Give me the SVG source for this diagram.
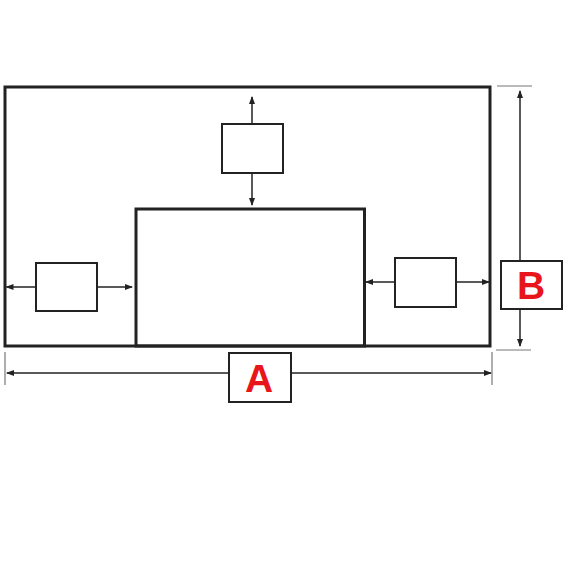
<svg xmlns="http://www.w3.org/2000/svg" width="570" height="570" viewBox="0 0 570 570">
<defs>
<marker id="ah" markerWidth="8" markerHeight="6" refX="7" refY="3" orient="auto" markerUnits="userSpaceOnUse">
<path d="M0,0 L8,3 L0,6 Z" fill="#222"/>
</marker>
</defs>
<style>
.frame{fill:none;stroke:#222;stroke-width:3}
.box{fill:#fff;stroke:#222;stroke-width:2}
.arr{stroke:#222;stroke-width:1.5;fill:none;marker-end:url(#ah)}
.ext{stroke:#777;stroke-width:1.2;fill:none}
.lbl{font-family:"Liberation Sans",Arial,sans-serif;font-weight:bold;font-size:39px;fill:#e8161b;text-anchor:middle}
</style>
<rect width="570" height="570" fill="#fff"/>
<g id="outer"><rect class="frame" x="5" y="87" width="485" height="259"/></g>
<g id="inner"><rect class="frame" x="136" y="209" width="228.5" height="137"/></g>
<g id="connectors">
<line class="arr" x1="252" y1="124" x2="252" y2="97"/>
<line class="arr" x1="252" y1="173" x2="252" y2="205"/>
<line class="arr" x1="36" y1="287" x2="6.5" y2="287"/>
<line class="arr" x1="97" y1="287" x2="132" y2="287"/>
<line class="arr" x1="395" y1="282" x2="366" y2="282"/>
<line class="arr" x1="456" y1="282" x2="489" y2="282"/>
<line class="arr" x1="520" y1="261" x2="520" y2="91"/>
<line class="arr" x1="520" y1="309" x2="520" y2="346"/>
<line class="arr" x1="229" y1="373" x2="7" y2="373"/>
<line class="arr" x1="291" y1="373" x2="491" y2="373"/>
<line class="ext" x1="497" y1="86" x2="532" y2="86"/>
<line class="ext" x1="496" y1="350" x2="531" y2="350"/>
<line class="ext" x1="5" y1="352" x2="5" y2="385"/>
<line class="ext" x1="492" y1="352" x2="492" y2="385"/>
</g>
<g id="top-box"><rect class="box" x="222" y="124" width="61" height="49"/></g>
<g id="left-box"><rect class="box" x="36" y="263" width="61" height="48"/></g>
<g id="right-box"><rect class="box" x="395" y="258" width="61" height="49"/></g>
<g id="label-b"><rect class="box" x="501" y="261" width="61" height="48"/><text class="lbl" x="531" y="299">B</text></g>
<g id="label-a"><rect class="box" x="229" y="353" width="62" height="49"/><text class="lbl" x="259" y="392">A</text></g>
</svg>
